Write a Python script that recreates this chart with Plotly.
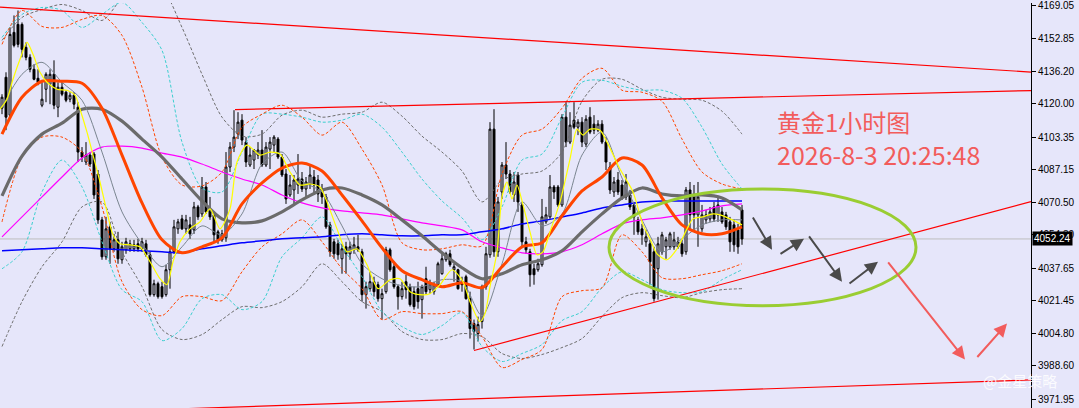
import plotly.graph_objects as go

# hourly gold candles, 186 bars (price units)
bar_open = [
    4117.8, 4133.3, 4114.3, 4155.8, 4159.8, 4159.8, 4148.3, 4143.3, 4137.3, 4132.8,
    4119.3, 4127.3, 4129.8, 4134.8, 4118.3, 4128.3, 4125.8, 4122.3, 4124.3, 4118.3,
    4095.8, 4090.8, 4094.3, 4094.8, 4084.8, 4061.8, 4043.3, 4058.3, 4047.3, 4051.8,
    4041.8, 4046.8, 4047.3, 4047.3, 4049.8, 4047.3, 4049.8, 4044.3, 4024.3, 4029.8,
    4028.3, 4024.3, 4036.8, 4045.8, 4057.3, 4062.3, 4057.3, 4059.3, 4056.8, 4068.3,
    4064.8, 4078.3, 4067.3, 4064.3, 4055.8, 4051.8, 4052.8, 4088.3, 4098.3, 4104.8,
    4111.8, 4100.8, 4089.3, 4091.8, 4094.3, 4096.8, 4089.3, 4097.3, 4099.3, 4102.3,
    4093.3, 4084.8, 4074.3, 4076.8, 4079.3, 4082.3, 4077.3, 4079.3, 4083.3, 4081.8,
    4077.3, 4073.3, 4059.3, 4050.8, 4049.8, 4042.3, 4048.3, 4044.8, 4046.8, 4048.3,
    4045.8, 4024.3, 4027.3, 4030.8, 4029.3, 4022.3, 4025.8, 4046.8, 4038.3, 4028.3,
    4023.3, 4030.8, 4028.3, 4025.8, 4027.3, 4021.8, 4032.3, 4026.8, 4025.8, 4029.3,
    4034.8, 4041.8, 4044.8, 4036.8, 4036.8, 4030.8, 4033.3, 4022.3, 4009.8, 4004.8,
    4010.8, 4028.3, 4044.3, 4107.3, 4045.8, 4075.8, 4089.3, 4084.8, 4074.3, 4084.3,
    4069.3, 4050.8, 4045.8, 4037.3, 4036.8, 4039.3, 4060.8, 4063.3, 4078.3, 4078.3,
    4069.3, 4113.3, 4100.8, 4111.8, 4108.3, 4110.8, 4099.8, 4113.3, 4109.8, 4106.8,
    4109.8, 4100.8, 4088.3, 4075.8, 4081.8, 4079.3, 4073.3, 4074.3, 4069.3, 4061.8,
    4057.3, 4050.8, 4049.8, 4045.8, 4037.3, 4045.8, 4048.3, 4048.3, 4048.3, 4048.3,
    4049.8, 4045.8, 4076.8, 4073.3, 4064.3, 4057.3, 4061.8, 4062.3, 4068.3, 4064.3,
    4065.8, 4064.3, 4060.8, 4059.3, 4056.8, 4066.8,
]
bar_high = [
    4124.8, 4135.8, 4158.3, 4164.3, 4166.8, 4160.8, 4150.8, 4144.8, 4139.8, 4137.3,
    4130.8, 4135.8, 4137.3, 4141.8, 4130.8, 4131.8, 4126.8, 4125.8, 4125.8, 4120.8,
    4098.3, 4100.8, 4095.8, 4095.8, 4086.8, 4063.3, 4063.3, 4060.8, 4054.8, 4055.8,
    4050.8, 4052.8, 4051.8, 4051.8, 4052.3, 4052.8, 4051.8, 4045.8, 4031.8, 4030.8,
    4030.8, 4039.3, 4048.3, 4061.8, 4062.3, 4064.3, 4064.3, 4063.3, 4070.8, 4069.3,
    4083.3, 4080.8, 4073.3, 4065.8, 4056.8, 4056.8, 4095.8, 4100.8, 4116.8, 4115.8,
    4114.8, 4103.3, 4098.3, 4097.3, 4100.8, 4106.8, 4100.8, 4103.3, 4104.3, 4103.3,
    4094.8, 4087.3, 4084.3, 4084.3, 4094.8, 4085.8, 4083.3, 4089.3, 4086.8, 4084.3,
    4079.8, 4074.8, 4060.8, 4052.3, 4051.8, 4049.8, 4050.8, 4050.8, 4053.3, 4054.3,
    4047.3, 4030.8, 4035.8, 4033.3, 4030.8, 4027.3, 4048.3, 4047.8, 4040.8, 4029.3,
    4030.8, 4034.3, 4029.8, 4028.3, 4030.8, 4029.3, 4038.3, 4031.8, 4030.8, 4040.8,
    4044.8, 4045.8, 4046.8, 4039.8, 4037.3, 4033.3, 4034.3, 4025.8, 4011.8, 4013.3,
    4029.3, 4048.3, 4110.8, 4117.3, 4073.3, 4090.8, 4100.8, 4086.8, 4085.8, 4085.8,
    4070.8, 4053.3, 4047.3, 4039.8, 4042.3, 4072.3, 4068.3, 4084.3, 4079.3, 4079.3,
    4114.8, 4120.8, 4115.8, 4120.8, 4112.3, 4113.3, 4114.3, 4118.3, 4114.3, 4111.8,
    4111.8, 4103.3, 4090.8, 4083.3, 4085.8, 4081.8, 4084.8, 4076.8, 4070.8, 4063.3,
    4059.8, 4056.8, 4051.8, 4048.3, 4053.3, 4055.8, 4053.3, 4055.8, 4055.8, 4053.3,
    4051.8, 4078.3, 4080.8, 4079.3, 4080.8, 4069.3, 4066.8, 4068.3, 4070.8, 4073.3,
    4068.3, 4065.8, 4063.3, 4061.8, 4059.8, 4069.3,
]
bar_low = [
    4114.8, 4106.8, 4113.3, 4148.3, 4148.3, 4143.3, 4141.8, 4135.8, 4131.8, 4129.3,
    4118.3, 4120.8, 4119.8, 4117.3, 4113.3, 4123.8, 4120.8, 4120.8, 4117.3, 4090.8,
    4090.8, 4089.3, 4088.3, 4072.3, 4059.8, 4041.8, 4041.8, 4039.8, 4045.8, 4039.8,
    4039.8, 4044.8, 4045.8, 4045.8, 4045.8, 4045.8, 4043.3, 4023.3, 4023.3, 4022.3,
    4022.3, 4023.3, 4027.3, 4044.8, 4054.8, 4056.8, 4054.8, 4052.3, 4054.8, 4061.8,
    4063.3, 4064.8, 4061.8, 4050.8, 4049.8, 4050.8, 4050.8, 4085.8, 4095.8, 4102.3,
    4099.3, 4088.3, 4088.3, 4087.3, 4092.3, 4088.3, 4088.3, 4087.3, 4095.8, 4092.3,
    4083.3, 4069.8, 4073.3, 4069.3, 4074.8, 4075.8, 4072.3, 4077.3, 4074.8, 4070.8,
    4069.8, 4057.3, 4043.3, 4042.3, 4041.8, 4034.8, 4034.8, 4041.8, 4044.8, 4045.8,
    4020.8, 4017.3, 4025.8, 4023.3, 4020.8, 4011.8, 4024.8, 4035.8, 4027.3, 4016.8,
    4021.8, 4022.3, 4018.3, 4016.8, 4017.3, 4012.3, 4024.3, 4024.8, 4024.3, 4028.3,
    4034.3, 4040.8, 4038.3, 4030.8, 4026.8, 4025.8, 4021.8, 4002.3, 3996.8, 4000.8,
    4007.3, 4026.8, 4042.8, 4043.3, 4043.3, 4072.3, 4082.3, 4074.8, 4070.8, 4065.8,
    4048.3, 4044.8, 4028.3, 4029.3, 4035.8, 4038.3, 4059.8, 4062.3, 4072.3, 4068.3,
    4068.3, 4098.3, 4099.8, 4107.3, 4104.3, 4098.3, 4098.3, 4104.8, 4104.8, 4105.8,
    4099.8, 4086.8, 4074.8, 4073.3, 4074.3, 4071.8, 4071.8, 4066.8, 4054.3, 4054.3,
    4049.3, 4048.3, 4029.3, 4020.8, 4021.8, 4044.3, 4042.3, 4046.8, 4046.8, 4047.3,
    4043.3, 4044.3, 4057.3, 4055.8, 4048.3, 4055.8, 4059.8, 4060.8, 4060.8, 4060.8,
    4059.8, 4056.8, 4045.8, 4045.8, 4044.8, 4049.3,
]
bar_close = [
    4123.3, 4113.3, 4154.8, 4149.3, 4149.8, 4147.3, 4143.3, 4137.3, 4132.3, 4130.8,
    4122.3, 4134.8, 4134.8, 4119.3, 4128.3, 4124.8, 4121.8, 4124.3, 4119.8, 4095.8,
    4093.3, 4094.3, 4089.8, 4074.3, 4061.8, 4043.3, 4057.3, 4047.3, 4051.8, 4042.3,
    4048.3, 4050.8, 4049.8, 4049.3, 4047.3, 4050.8, 4044.3, 4024.3, 4029.8, 4023.3,
    4023.3, 4036.8, 4045.8, 4058.3, 4060.8, 4057.3, 4061.8, 4054.8, 4068.3, 4063.3,
    4078.3, 4065.8, 4063.3, 4054.3, 4051.8, 4054.8, 4088.3, 4098.3, 4103.3, 4110.8,
    4101.8, 4090.8, 4094.3, 4096.8, 4096.8, 4089.3, 4098.3, 4100.8, 4103.3, 4093.3,
    4084.3, 4072.3, 4079.3, 4081.8, 4082.3, 4077.3, 4080.8, 4084.3, 4079.3, 4074.8,
    4073.3, 4058.3, 4045.8, 4044.8, 4044.3, 4047.3, 4044.8, 4048.3, 4049.3, 4046.8,
    4024.3, 4028.3, 4030.8, 4025.8, 4022.3, 4024.8, 4046.8, 4036.8, 4028.3, 4023.3,
    4027.3, 4026.8, 4019.3, 4018.3, 4020.8, 4028.3, 4025.8, 4029.8, 4029.3, 4039.8,
    4042.3, 4044.8, 4039.3, 4038.3, 4027.3, 4029.3, 4022.3, 4007.3, 4005.8, 4009.3,
    4028.3, 4044.8, 4107.3, 4045.8, 4070.8, 4089.3, 4084.8, 4075.8, 4080.8, 4070.8,
    4050.8, 4046.8, 4034.3, 4034.3, 4039.8, 4063.3, 4064.3, 4078.3, 4075.8, 4069.3,
    4113.3, 4100.8, 4109.3, 4108.3, 4110.8, 4100.8, 4112.3, 4105.8, 4106.8, 4109.8,
    4100.8, 4090.8, 4076.8, 4080.8, 4075.8, 4073.3, 4080.8, 4068.3, 4063.3, 4055.8,
    4054.3, 4053.3, 4040.8, 4022.3, 4049.8, 4054.3, 4051.8, 4054.8, 4051.8, 4050.8,
    4044.8, 4076.8, 4064.3, 4064.3, 4073.3, 4064.3, 4064.3, 4065.8, 4062.3, 4069.3,
    4060.8, 4058.3, 4050.8, 4049.3, 4048.3, 4052.24,
]
bars = list(range(len(bar_close)))

# indicator lines read every 5 bars
grid_bars = list(range(0, 186, 5))
ma_orange = [
    4104.8, 4123.3, 4131.3, 4131.3, 4130.3, 4117.8, 4094.3, 4070.3, 4051.8, 4045.3,
    4048.3, 4052.8, 4069.8, 4080.3, 4087.8, 4090.3, 4086.3, 4074.3, 4061.3, 4047.8,
    4036.3, 4031.8, 4028.3, 4030.3, 4027.8, 4038.3, 4048.3, 4050.3, 4063.8, 4076.3,
    4083.3, 4092.8, 4089.3, 4072.8, 4059.3, 4054.8, 4054.8, 4058.3,
]
ma_darkgray = [
    4073.8, 4093.8, 4104.8, 4110.3, 4117.3, 4117.3, 4111.3, 4102.3, 4093.3, 4082.3,
    4071.3, 4062.3, 4060.3, 4061.3, 4065.8, 4071.8, 4076.8, 4077.8, 4074.3, 4069.3,
    4061.8, 4053.8, 4045.3, 4037.8, 4032.3, 4034.8, 4039.3, 4041.8, 4046.3, 4055.8,
    4064.8, 4072.8, 4077.8, 4074.8, 4073.8, 4074.3, 4072.8, 4066.8,
]
ma_slate = [
    4118.3, 4134.8, 4140.8, 4130.8, 4121.8, 4095.8, 4065.8, 4049.8, 4038.3, 4048.3,
    4058.8, 4054.3, 4064.8, 4089.8, 4095.8, 4081.3, 4075.8, 4058.8, 4039.8, 4032.3,
    4028.8, 4028.3, 4031.8, 4030.8, 4013.8, 4039.8, 4070.8, 4058.8, 4064.8, 4094.3,
    4105.8, 4082.8, 4061.8, 4045.8, 4052.3, 4059.3, 4061.8, 4061.8,
]
ma_magenta = [
    4053.3, 4063.3, 4073.3, 4083.3, 4092.8, 4098.3, 4098.8, 4097.8, 4095.3, 4093.3,
    4089.8, 4085.8, 4082.3, 4079.3, 4074.3, 4070.3, 4067.8, 4066.3, 4065.3, 4064.3,
    4062.3, 4060.3, 4058.8, 4056.8, 4050.8, 4047.8, 4045.3, 4044.8, 4045.8, 4049.3,
    4054.8, 4059.8, 4061.8, 4062.8, 4064.3, 4066.3, 4068.8, 4069.8,
]
ma_blue = [
    4046.3, 4046.8, 4047.3, 4047.8, 4047.8, 4047.3, 4046.8, 4046.3, 4045.8, 4045.3,
    4047.3, 4048.8, 4050.3, 4051.3, 4052.3, 4052.8, 4053.3, 4054.3, 4054.8, 4054.3,
    4053.8, 4053.8, 4054.3, 4054.3, 4055.8, 4057.3, 4059.8, 4061.3, 4063.3, 4065.3,
    4067.8, 4069.3, 4070.8, 4071.3, 4071.3, 4071.3, 4071.3, 4071.3,
]
band_orange_up = [
    4149.8, 4166.8, 4158.8, 4158.3, 4162.3, 4164.3, 4154.3, 4128.3, 4093.3, 4079.3,
    4078.8, 4085.8, 4108.3, 4114.8, 4119.3, 4113.3, 4104.3, 4110.8, 4097.3, 4079.3,
    4050.3, 4046.8, 4047.3, 4049.3, 4048.8, 4084.8, 4104.3, 4107.3, 4117.8, 4132.8,
    4137.8, 4126.8, 4125.8, 4121.3, 4102.3, 4085.8, 4079.8, 4077.3,
]
band_orange_dn = [
    4060.8, 4093.3, 4103.3, 4103.3, 4095.8, 4068.3, 4030.8, 4016.8, 4013.8, 4023.3,
    4023.3, 4021.3, 4035.8, 4048.3, 4054.8, 4061.8, 4050.8, 4037.3, 4027.3, 4011.8,
    4015.8, 4014.8, 4014.8, 4015.8, 4003.3, 3987.8, 3991.8, 3996.8, 4023.3, 4026.3,
    4027.8, 4054.3, 4045.8, 4032.8, 4032.3, 4034.3, 4036.3, 4039.8,
]
band_cyan_up = [
    4153.3, 4164.8, 4168.3, 4166.8, 4158.3, 4164.8, 4170.8, 4160.8, 4146.8, 4100.8,
    4077.8, 4075.8, 4095.8, 4114.8, 4114.8, 4113.3, 4110.8, 4111.8, 4114.8, 4108.3,
    4095.8, 4082.3, 4071.3, 4062.8, 4051.8, 4068.3, 4091.8, 4094.8, 4113.3, 4130.8,
    4131.8, 4128.8, 4126.8, 4126.8, 4122.8, 4108.3, 4089.8, 4077.3,
]
band_cyan_dn = [
    4037.3, 4045.8, 4075.8, 4091.8, 4078.3, 4050.8, 4026.8, 4020.8, 4001.3, 4007.3,
    4022.3, 4024.3, 4016.8, 4020.8, 4043.3, 4052.8, 4063.3, 4048.3, 4033.3, 4015.8,
    4008.3, 4004.3, 4008.8, 4015.3, 3998.3, 3990.8, 3994.8, 3999.3, 4011.3, 4015.8,
    4027.8, 4035.8, 4031.8, 4026.8, 4025.3, 4025.8, 4031.8, 4036.8,
]
band_gray_up = [
    4151.8, 4163.3, 4167.3, 4169.8, 4166.8, 4161.8, 4173.3, 4183.3, 4178.3, 4158.3,
    4134.8, 4113.3, 4103.8, 4104.8, 4114.3, 4116.8, 4113.3, 4114.8, 4115.8, 4120.8,
    4113.8, 4103.8, 4095.8, 4086.3, 4070.8, 4081.8, 4084.8, 4086.3, 4095.8, 4121.3,
    4132.3, 4132.3, 4127.3, 4123.3, 4122.3, 4121.8, 4116.3, 4104.8,
]
band_gray_dn = [
    3998.3, 4020.8, 4038.3, 4050.8, 4068.3, 4070.8, 4045.8, 4028.3, 4006.8, 4001.8,
    4004.3, 4011.8, 4018.3, 4017.8, 4020.8, 4028.3, 4039.8, 4030.8, 4020.8, 4015.8,
    4005.8, 4001.8, 4001.8, 4004.8, 4003.3, 3994.8, 3992.3, 3994.3, 3997.8, 4002.3,
    4013.3, 4022.8, 4025.3, 4023.8, 4022.8, 4025.3, 4026.8, 4027.3,
]

# fast yellow average, read at its turning points
fast_bars = [
    -0.5, 1.25, 2.75, 4.5, 6.25, 7.75, 9.5, 11.25, 13.75, 16.25, 18.25, 19.5, 21.25,
    22.75, 24.5, 26.25, 27.75, 29.5, 32, 34.5, 37, 39.5, 41.25, 42.75, 44.5, 47,
    49.5, 52, 54.5, 57, 58.75, 61.25, 64.5, 67, 69.5, 72, 74.5, 77, 79.5, 81.25,
    83.75, 86.25, 88.75, 91.25, 94, 97, 99.5, 102, 104.5, 107, 109.5, 112.5, 115.25,
    117, 119.5, 120.75, 122, 123.75, 125, 126.25, 127.5, 128.75, 130.25, 132, 133.75,
    135.25, 137, 139.5, 142, 143.75, 145.25, 147, 149.5, 151.25, 154.5, 157.75,
    160.25, 162, 163.75, 166.25, 168.75, 171.25, 172.75, 175.25, 177.75, 179.5,
    182, 185,
]
fast_ma = [
    4117.3, 4122.3, 4132.3, 4142.3, 4150.8, 4144.8, 4135.8, 4130.8, 4127.3, 4126.8,
    4124.3, 4117.3, 4105.8, 4094.3, 4080.8, 4065.8, 4054.3, 4049.8, 4049.3, 4048.3,
    4040.8, 4032.3, 4029.3, 4040.8, 4050.8, 4057.3, 4060.8, 4067.3, 4057.3, 4067.3,
    4090.8, 4099.3, 4094.3, 4095.8, 4094.8, 4085.8, 4079.3, 4079.8, 4078.3, 4070.8,
    4057.3, 4045.8, 4047.3, 4039.3, 4027.3, 4031.8, 4032.3, 4025.8, 4024.3, 4024.8,
    4029.3, 4036.8, 4030.8, 4020.8, 4010.8, 4014.8, 4028.3, 4045.8, 4073.3, 4080.8,
    4072.3, 4079.3, 4069.3, 4055.8, 4044.3, 4045.8, 4055.8, 4070.8, 4092.3, 4107.3,
    4104.3, 4107.3, 4106.8, 4100.8, 4087.3, 4075.8, 4059.3, 4052.3, 4044.8, 4041.8,
    4047.3, 4057.3, 4062.3, 4063.3, 4064.8, 4064.3, 4062.3, 4059.3,
]

# hand-drawn objects: (bar, price) anchors
trend_lines = [
    ((-0.5, 4168.45), (257.25, 4135.9)),
    ((58.25, 4117.05), (257.25, 4126.65)),
    ((118.0, 3996.3), (257.25, 4070.95)),
    ((44.75, 3967.05), (257.25, 3981.6)),
]
ellipse_box = (151.75, 4018.8, 228.5, 4077.3)
gray_arrows = [
    ((187.5, 4063.8), (192.5, 4046.8)),
    ((194.25, 4044.3), (200.5, 4052.3)),
    ((201.5, 4054.3), (210.0, 4030.8)),
    ((211.5, 4029.3), (219.0, 4040.8)),
]
red_arrows = [
    ((221.25, 4041.3), (240.75, 3991.8)),
    ((243.5, 3992.3), (251.25, 4009.8)),
]
last_price = 4052.24
tick_vals = [4169.05, 4152.85, 4136.20, 4120.00, 4103.35, 4087.15, 4070.50,
             4054.30, 4037.65, 4021.45, 4004.80, 3988.60, 3971.95]
title_lines = ["黄金1小时图", "2026-8-3 20:25:48"]
watermark = "@金星策略"

bg = "#E6E6FA"
fig = go.Figure()

fig.add_trace(go.Candlestick(
    x=bars, open=bar_open, high=bar_high, low=bar_low, close=bar_close,
    increasing=dict(line=dict(color="black", width=1), fillcolor=bg),
    decreasing=dict(line=dict(color="black", width=1), fillcolor="black"),
    whiskerwidth=0, showlegend=False, hoverinfo="skip",
))

dashed = "3px,2px"
for vals, color in [(band_gray_up, "#6E6E6E"), (band_gray_dn, "#6E6E6E"),
                    (band_cyan_up, "#3CCFCF"), (band_cyan_dn, "#3CCFCF"),
                    (band_orange_up, "#FF4500"), (band_orange_dn, "#FF4500")]:
    fig.add_trace(go.Scatter(
        x=grid_bars, y=vals, mode="lines",
        line=dict(color=color, width=1, dash=dashed, shape="spline", smoothing=0.8),
        showlegend=False, hoverinfo="skip",
    ))

for vals, color, width in [(ma_blue, "#0000FF", 1.5), (ma_magenta, "#FF00FF", 1.2),
                           (ma_darkgray, "#6B6B6B", 3.2), (ma_slate, "#7A8590", 1),
                           (ma_orange, "#FF4500", 3)]:
    fig.add_trace(go.Scatter(
        x=grid_bars, y=vals, mode="lines",
        line=dict(color=color, width=width, shape="spline", smoothing=0.8),
        showlegend=False, hoverinfo="skip",
    ))

fig.add_trace(go.Scatter(
    x=fast_bars, y=fast_ma, mode="lines",
    line=dict(color="#FFFF00", width=1.2, shape="spline", smoothing=0.7),
    showlegend=False, hoverinfo="skip",
))

fig.add_shape(type="line", xref="paper", x0=0, x1=1, y0=last_price, y1=last_price,
              line=dict(color="#BDBDBD", width=1), layer="below")
for (x0, y0), (x1, y1) in trend_lines:
    fig.add_shape(type="line", x0=x0, y0=y0, x1=x1, y1=y1,
                  line=dict(color="#FF0000", width=1.2))
ex0, ey0, ex1, ey1 = ellipse_box
fig.add_shape(type="circle", x0=ex0, y0=ey0, x1=ex1, y1=ey1,
              line=dict(color="#9ACD32", width=3))

for arrows, color in [(gray_arrows, "#4A4A4A"), (red_arrows, "#F25C5C")]:
    for (tx, ty), (hx, hy) in arrows:
        fig.add_annotation(x=hx, y=hy, ax=tx, ay=ty, axref="x", ayref="y",
                           text="", showarrow=True, arrowhead=2, arrowsize=1.3,
                           arrowwidth=2, arrowcolor=color, standoff=0)

fig.add_annotation(x=193.25, y=4111.3, text=title_lines[0], showarrow=False,
                   xanchor="left", yanchor="middle",
                   font=dict(family="Noto Sans CJK SC", size=24, color="#F25C5C"))
fig.add_annotation(x=193.25, y=4094.8, text=title_lines[1], showarrow=False,
                   xanchor="left", yanchor="middle",
                   font=dict(family="Noto Sans CJK SC", size=25, color="#F25C5C"))
fig.add_annotation(x=254.5, y=3981.3, text=watermark, showarrow=False,
                   font=dict(family="Noto Sans CJK SC", size=15,
                             color="rgba(255,255,255,0.85)"))
fig.add_annotation(xref="paper", x=1, y=last_price, text=f"{last_price:.2f}",
                   showarrow=False, xanchor="left", xshift=1, bgcolor="black",
                   borderpad=1, font=dict(family="Liberation Sans", size=10, color="white"))

fig.update_layout(
    width=1079, height=408,
    margin=dict(l=0, r=48, t=0, b=0),
    paper_bgcolor=bg, plot_bgcolor=bg,
    showlegend=False,
    xaxis=dict(range=[-0.5, 257.25], visible=False, rangeslider=dict(visible=False)),
    yaxis=dict(
        side="right", range=[3967.48, 4170.54],
        tickvals=tick_vals, ticktext=[f"{v:.2f}" for v in tick_vals],
        ticks="outside", ticklen=4, tickcolor="black",
        showline=True, linecolor="black", linewidth=1,
        showgrid=False, zeroline=False, ticklabeloverflow="allow",
        tickfont=dict(family="Liberation Sans", size=10, color="black"),
    ),
)

# the page body margin would push the fixed-size chart off the window
fig.write_html("out.html", config={"displayModeBar": False},
               post_script="document.body.style.margin='0';")
